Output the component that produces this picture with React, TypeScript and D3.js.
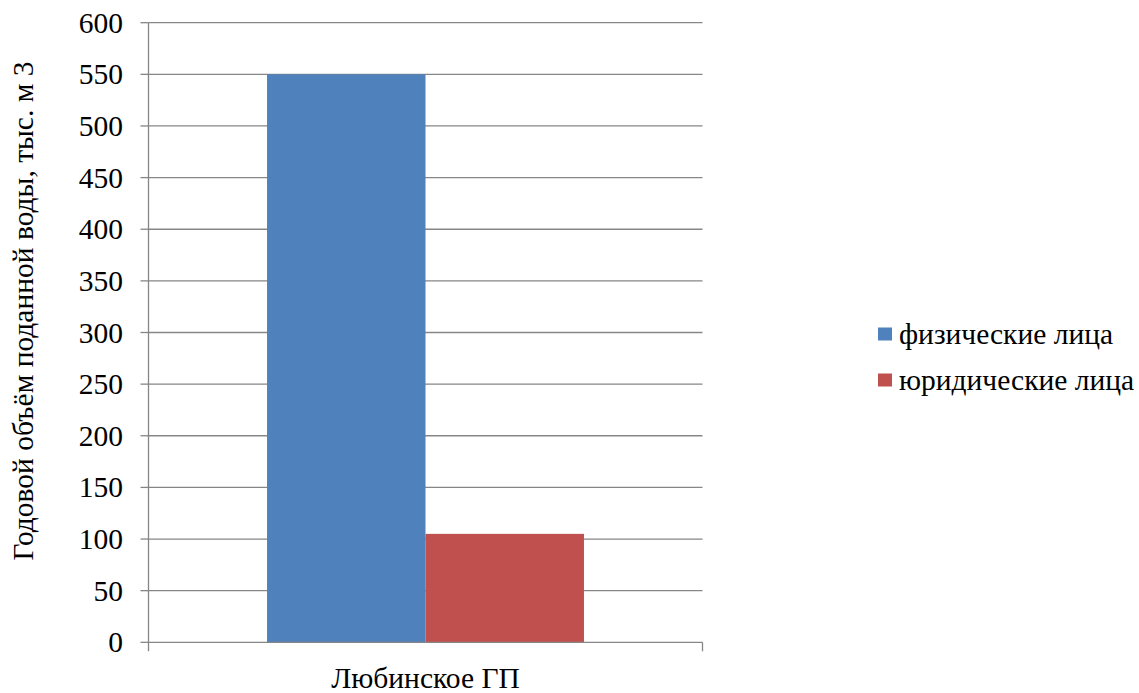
import React from "react";
import * as d3 from "d3";

// Annual water supply by consumer type
const categories: string[] = ["Любинское ГП"];
const seriesNames: string[] = ["физические лица", "юридические лица"];
const seriesColors: string[] = ["#4f81bd", "#c0504d"];
const physicalValues: number[] = [550];
const legalValues: number[] = [105];
const yTicks: number[] = [0, 50, 100, 150, 200, 250, 300, 350, 400, 450, 500, 550, 600];
const yTitle = "Годовой объём поданной воды, тыс. м 3";

const W = 1139;
const H = 693;
const margin = { left: 148.5, right: 702.5, top: 22.7, bottom: 642.3 };
const FONT = "Times New Roman";
const FS = 29.5;

function Label(props: any) {
  const { children, ...rest } = props;
  return (
    <text style={{ fontFamily: FONT, fontSize: FS }} fill="#000" {...rest}>
      {children}
    </text>
  );
}

export default function App() {
  const x = d3
    .scaleBand<string>()
    .domain(categories)
    .range([margin.left, margin.right])
    .paddingInner(0)
    .paddingOuter(0.374);
  const sub = d3
    .scaleBand<string>()
    .domain(seriesNames)
    .range([0, x.bandwidth()])
    .padding(0);
  const y = d3.scaleLinear().domain([0, 600]).range([margin.bottom, margin.top]);

  const series = [physicalValues, legalValues];
  const gridColor = "#868686";

  return (
    <svg width={W} height={H} style={{ position: "absolute", left: 0, top: 0, background: "#fff" }}>
      {/* horizontal gridlines and y tick marks */}
      {yTicks.map((t) =>
        t > 0 ? (
          <line key={"g" + t} x1={margin.left} x2={margin.right} y1={y(t)} y2={y(t)} stroke={gridColor} strokeWidth={1.3} />
        ) : null
      )}
      {yTicks.map((t) => (
        <line key={"t" + t} x1={margin.left - 8} x2={margin.left} y1={y(t)} y2={y(t)} stroke={gridColor} strokeWidth={1.3} />
      ))}

      {/* bars */}
      {categories.map((c, ci) =>
        seriesNames.map((s, si) => (
          <rect
            key={c + s}
            x={(x(c) ?? 0) + (sub(s) ?? 0)}
            y={y(series[si][ci])}
            width={sub.bandwidth()}
            height={y(0) - y(series[si][ci])}
            fill={seriesColors[si]}
          />
        ))
      )}

      {/* axes */}
      <line x1={margin.left} x2={margin.left} y1={margin.top} y2={margin.bottom + 9} stroke={gridColor} strokeWidth={1.3} />
      <line x1={margin.left} x2={margin.right} y1={margin.bottom} y2={margin.bottom} stroke={gridColor} strokeWidth={1.3} />
      <line x1={margin.right} x2={margin.right} y1={margin.bottom} y2={margin.bottom + 9} stroke={gridColor} strokeWidth={1.3} />

      {/* tick labels */}
      {yTicks.map((t) => (
        <Label key={"l" + t} x={123} y={y(t) + 10} textAnchor="end">
          {t}
        </Label>
      ))}

      {/* category label */}
      {categories.map((c) => (
        <Label key={c} x={(x(c) ?? 0) + x.bandwidth() / 2} y={688} textAnchor="middle">
          {c}
        </Label>
      ))}

      {/* y axis title */}
      <Label transform="translate(33, 311) rotate(-90)" textAnchor="middle">
        {yTitle}
      </Label>

      {/* legend */}
      {seriesNames.map((s, i) => (
        <rect key={"k" + s} x={878} y={327.5 + i * 46} width={14} height={13} fill={seriesColors[i]} />
      ))}
      {seriesNames.map((s, i) => (
        <Label key={"n" + s} x={899} y={344 + i * 46}>
          {s}
        </Label>
      ))}
    </svg>
  );
}
